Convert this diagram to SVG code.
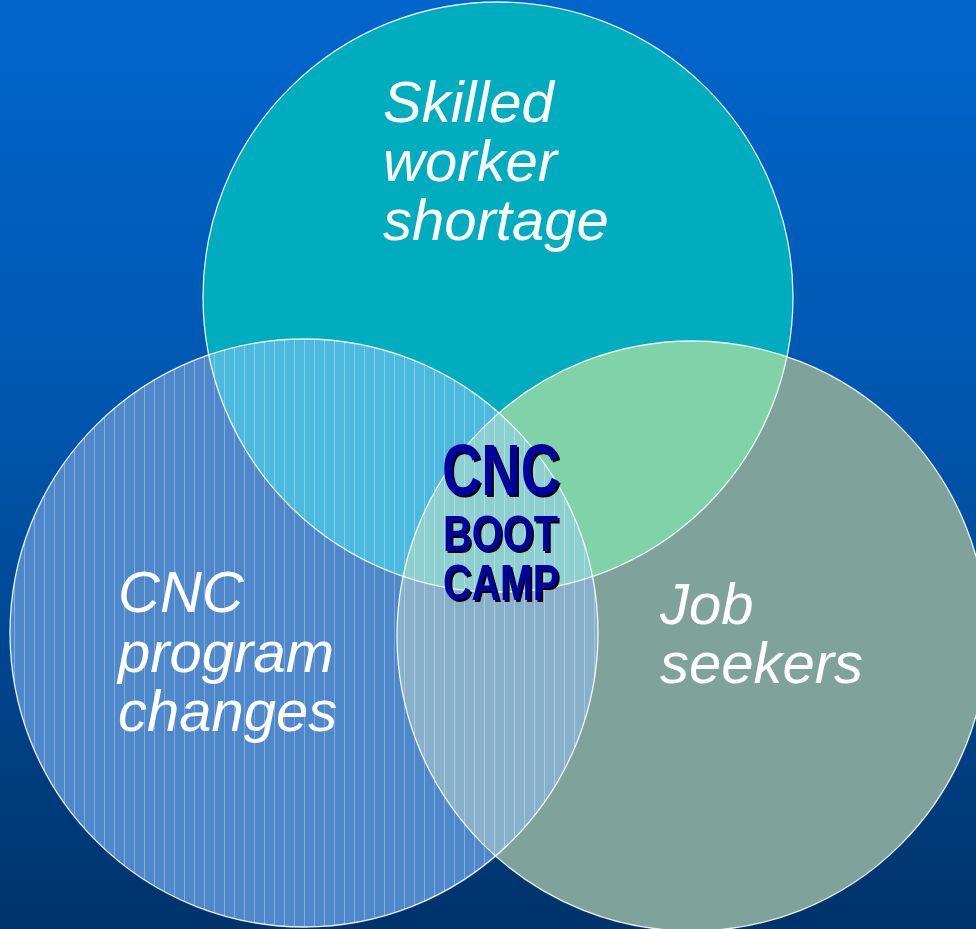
<svg xmlns="http://www.w3.org/2000/svg" width="976" height="929" viewBox="0 0 976 929">
  <style>
    .lbl { font-family: "Liberation Sans", Arial, sans-serif; font-style: italic; font-size: 58px; fill: #ffffff; }
    .ctr { font-family: "Liberation Sans", Arial, sans-serif; font-weight: bold; fill: #00009C; filter: url(#shadow); }
    .edge { fill: none; stroke: #ffffff; stroke-width: 1.3; stroke-opacity: 0.9; }
  </style>
  <defs>
    <linearGradient id="bg" x1="0" y1="0" x2="0" y2="1">
      <stop offset="0" stop-color="#0066CC"/>
      <stop offset="0.45" stop-color="#0056AE"/>
      <stop offset="1" stop-color="#00336A"/>
    </linearGradient>
    <filter id="shadow" x="-10%" y="-10%" width="130%" height="130%">
      <feFlood flood-color="#000000" result="black"/>
      <feComposite in="black" in2="SourceAlpha" operator="in" result="sh"/>
      <feOffset in="sh" dx="2" dy="2" result="off"/>
      <feMerge>
        <feMergeNode in="off"/>
        <feMergeNode in="SourceGraphic"/>
      </feMerge>
    </filter>
    <pattern id="stripes" width="10" height="10" patternUnits="userSpaceOnUse">
      <rect x="4" y="0" width="1" height="10" fill="#ffffff" fill-opacity="0.3"/>
    </pattern>
    <circle id="cT" cx="498" cy="297" r="295"/>
    <circle id="cL" cx="304" cy="633" r="294"/>
    <circle id="cR" cx="692" cy="636" r="295"/>
    <clipPath id="clipT"><use href="#cT"/></clipPath>
    <clipPath id="clipL"><use href="#cL"/></clipPath>
    <clipPath id="clipR"><use href="#cR"/></clipPath>
  </defs>

  <rect x="0" y="0" width="976" height="929" fill="url(#bg)"/>

  <g id="circle-top">
    <use href="#cT" fill="#00ADBF"/>
  </g>
  <g id="circle-left">
    <use href="#cL" fill="#4E88CB"/>
  </g>
  <g id="circle-right">
    <use href="#cR" fill="#7FA39B"/>
  </g>

  <g id="overlaps">
    <g clip-path="url(#clipT)"><use href="#cL" fill="#4CB9DF"/></g>
    <g clip-path="url(#clipT)"><use href="#cR" fill="#80D3A9"/></g>
    <g clip-path="url(#clipL)"><use href="#cR" fill="#88B0CB"/></g>
    <g clip-path="url(#clipT)"><g clip-path="url(#clipL)"><use href="#cR" fill="#8ED0D0"/></g></g>
    <use href="#cL" fill="url(#stripes)"/>
  </g>

  <g id="outlines">
    <use href="#cT" class="edge"/>
    <use href="#cL" class="edge"/>
    <use href="#cR" class="edge"/>
  </g>

  <g id="label-top">
    <text class="lbl" x="383" y="122">Skilled</text>
    <text class="lbl" x="383" y="181">worker</text>
    <text class="lbl" x="383" y="240">shortage</text>
  </g>
  <g id="label-left">
    <text class="lbl" x="118" y="612">CNC</text>
    <text class="lbl" x="118" y="672">program</text>
    <text class="lbl" x="118" y="731">changes</text>
  </g>
  <g id="label-right">
    <text class="lbl" x="660" y="624">Job</text>
    <text class="lbl" x="660" y="683">seekers</text>
  </g>

  <g id="center-label">
    <text class="ctr" x="442" y="495" font-size="72" textLength="118" lengthAdjust="spacingAndGlyphs">CNC</text>
    <text class="ctr" x="443" y="551" font-size="50" textLength="115" lengthAdjust="spacingAndGlyphs">BOOT</text>
    <text class="ctr" x="443" y="600" font-size="50" textLength="116" lengthAdjust="spacingAndGlyphs">CAMP</text>
  </g>
</svg>
